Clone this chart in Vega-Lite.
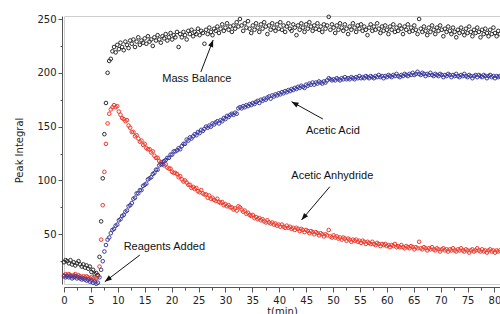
{
"$schema":"https://vega.github.io/schema/vega-lite/v6.json",
"width":436,"height":268,
"autosize":{"type":"none"},
"padding":{"left":64,"top":16,"right":0,"bottom":30},
"background":"white",
"config":{"view":{"stroke":"#cfcfcf","strokeWidth":1},"font":"DejaVu Sans"},
"datasets":{
"mass":[
{"t":0,"v":24},{"t":0.3,"v":26},{"t":0.6,"v":25},{"t":0.9,"v":23},{"t":1.2,"v":26},{"t":1.5,"v":22},{"t":1.8,"v":24},{"t":2.1,"v":21},{"t":2.4,"v":23},{"t":2.7,"v":25},
{"t":3,"v":22},{"t":3.3,"v":20},{"t":3.6,"v":22},{"t":3.9,"v":19},{"t":4.2,"v":21},{"t":4.5,"v":18},{"t":4.8,"v":20},{"t":5.1,"v":15},{"t":5.4,"v":17},{"t":5.7,"v":13},
{"t":6,"v":14},{"t":6.3,"v":12},{"t":6.6,"v":29},{"t":6.9,"v":62},{"t":7.2,"v":102},{"t":7.5,"v":143},{"t":7.8,"v":172},{"t":8.1,"v":200},{"t":8.4,"v":211},{"t":8.7,"v":213},
{"t":9,"v":220},{"t":9.3,"v":224},{"t":9.6,"v":219},{"t":9.9,"v":226},{"t":10.2,"v":222},{"t":10.5,"v":228},{"t":10.8,"v":224},{"t":11.1,"v":221},{"t":11.4,"v":229},{"t":11.7,"v":226},
{"t":12,"v":223},{"t":12.3,"v":230},{"t":12.6,"v":227},{"t":12.9,"v":231},{"t":13.2,"v":224},{"t":13.5,"v":229},{"t":13.8,"v":233},{"t":14.1,"v":226},{"t":14.4,"v":230},{"t":14.7,"v":228},
{"t":15,"v":232},{"t":15.3,"v":227},{"t":15.6,"v":234},{"t":15.9,"v":229},{"t":16.2,"v":231},{"t":16.5,"v":225},{"t":16.8,"v":233},{"t":17.1,"v":230},{"t":17.4,"v":235},{"t":17.7,"v":231},
{"t":18,"v":228},{"t":18.3,"v":234},{"t":18.6,"v":232},{"t":18.9,"v":236},{"t":19.2,"v":230},{"t":19.5,"v":233},{"t":19.8,"v":237},{"t":20.1,"v":231},{"t":20.4,"v":235},{"t":20.7,"v":233},
{"t":21,"v":238},{"t":21.3,"v":224},{"t":21.6,"v":236},{"t":21.9,"v":233},{"t":22.2,"v":238},{"t":22.5,"v":235},{"t":22.8,"v":231},{"t":23.1,"v":239},{"t":23.4,"v":236},{"t":23.7,"v":240},
{"t":24,"v":234},{"t":24.3,"v":238},{"t":24.6,"v":236},{"t":24.9,"v":241},{"t":25.2,"v":235},{"t":25.5,"v":239},{"t":25.8,"v":237},{"t":26.1,"v":227},{"t":26.4,"v":240},{"t":26.7,"v":236},
{"t":27,"v":242},{"t":27.3,"v":238},{"t":27.6,"v":235},{"t":27.9,"v":241},{"t":28.2,"v":239},{"t":28.5,"v":243},{"t":28.8,"v":237},{"t":29.1,"v":241},{"t":29.4,"v":245},{"t":29.7,"v":239},
{"t":30,"v":242},{"t":30.3,"v":246},{"t":30.6,"v":240},{"t":30.9,"v":243},{"t":31.2,"v":238},{"t":31.5,"v":244},{"t":31.8,"v":241},{"t":32.1,"v":247},{"t":32.4,"v":243},{"t":32.7,"v":250},
{"t":33,"v":244},{"t":33.3,"v":239},{"t":33.6,"v":246},{"t":33.9,"v":242},{"t":34.2,"v":248},{"t":34.5,"v":241},{"t":34.8,"v":237},{"t":35.1,"v":244},{"t":35.4,"v":240},{"t":35.7,"v":246},
{"t":36,"v":242},{"t":36.3,"v":238},{"t":36.6,"v":245},{"t":36.9,"v":241},{"t":37.2,"v":247},{"t":37.5,"v":243},{"t":37.8,"v":236},{"t":38.1,"v":244},{"t":38.4,"v":240},{"t":38.7,"v":246},
{"t":39,"v":242},{"t":39.3,"v":239},{"t":39.6,"v":245},{"t":39.9,"v":241},{"t":40.2,"v":247},{"t":40.5,"v":240},{"t":40.8,"v":244},{"t":41.1,"v":238},{"t":41.4,"v":243},{"t":41.7,"v":246},
{"t":42,"v":241},{"t":42.3,"v":239},{"t":42.6,"v":245},{"t":42.9,"v":242},{"t":43.2,"v":235},{"t":43.5,"v":244},{"t":43.8,"v":240},{"t":44.1,"v":246},{"t":44.4,"v":242},{"t":44.7,"v":238},
{"t":45,"v":245},{"t":45.3,"v":241},{"t":45.6,"v":247},{"t":45.9,"v":243},{"t":46.2,"v":239},{"t":46.5,"v":244},{"t":46.8,"v":241},{"t":47.1,"v":246},{"t":47.4,"v":240},{"t":47.7,"v":243},
{"t":48,"v":238},{"t":48.3,"v":245},{"t":48.6,"v":241},{"t":48.9,"v":244},{"t":49.2,"v":252},{"t":49.5,"v":240},{"t":49.8,"v":245},{"t":50.1,"v":242},{"t":50.4,"v":237},{"t":50.7,"v":244},
{"t":51,"v":240},{"t":51.3,"v":246},{"t":51.6,"v":242},{"t":51.9,"v":239},{"t":52.2,"v":245},{"t":52.5,"v":241},{"t":52.8,"v":236},{"t":53.1,"v":243},{"t":53.4,"v":240},{"t":53.7,"v":246},
{"t":54,"v":242},{"t":54.3,"v":238},{"t":54.6,"v":244},{"t":54.9,"v":241},{"t":55.2,"v":245},{"t":55.5,"v":239},{"t":55.8,"v":243},{"t":56.1,"v":240},{"t":56.4,"v":235},{"t":56.7,"v":242},
{"t":57,"v":245},{"t":57.3,"v":239},{"t":57.6,"v":243},{"t":57.9,"v":240},{"t":58.2,"v":246},{"t":58.5,"v":241},{"t":58.8,"v":237},{"t":59.1,"v":243},{"t":59.4,"v":239},{"t":59.7,"v":244},
{"t":60,"v":240},{"t":60.3,"v":236},{"t":60.6,"v":243},{"t":60.9,"v":240},{"t":61.2,"v":245},{"t":61.5,"v":238},{"t":61.8,"v":242},{"t":62.1,"v":239},{"t":62.4,"v":244},{"t":62.7,"v":241},
{"t":63,"v":236},{"t":63.3,"v":243},{"t":63.6,"v":240},{"t":63.9,"v":245},{"t":64.2,"v":238},{"t":64.5,"v":242},{"t":64.8,"v":239},{"t":65.1,"v":244},{"t":65.4,"v":240},{"t":65.7,"v":236},
{"t":66,"v":250},{"t":66.3,"v":241},{"t":66.6,"v":238},{"t":66.9,"v":243},{"t":67.2,"v":239},{"t":67.5,"v":235},{"t":67.8,"v":242},{"t":68.1,"v":238},{"t":68.4,"v":244},{"t":68.7,"v":240},
{"t":69,"v":236},{"t":69.3,"v":242},{"t":69.6,"v":239},{"t":69.9,"v":244},{"t":70.2,"v":240},{"t":70.5,"v":234},{"t":70.8,"v":241},{"t":71.1,"v":238},{"t":71.4,"v":243},{"t":71.7,"v":239},
{"t":72,"v":236},{"t":72.3,"v":242},{"t":72.6,"v":238},{"t":72.9,"v":233},{"t":73.2,"v":240},{"t":73.5,"v":237},{"t":73.8,"v":242},{"t":74.1,"v":238},{"t":74.4,"v":235},{"t":74.7,"v":241},
{"t":75,"v":237},{"t":75.3,"v":243},{"t":75.6,"v":238},{"t":75.9,"v":234},{"t":76.2,"v":240},{"t":76.5,"v":237},{"t":76.8,"v":242},{"t":77.1,"v":238},{"t":77.4,"v":233},{"t":77.7,"v":240},
{"t":78,"v":236},{"t":78.3,"v":241},{"t":78.6,"v":237},{"t":78.9,"v":234},{"t":79.2,"v":240},{"t":79.5,"v":236},{"t":79.8,"v":242},{"t":80.1,"v":237},{"t":80.4,"v":234},{"t":80.7,"v":239},
{"t":81,"v":236}],
"anh":[
{"t":0,"v":12},{"t":0.3,"v":13},{"t":0.6,"v":12},{"t":0.9,"v":13},{"t":1.2,"v":12},{"t":1.5,"v":11},{"t":1.8,"v":12},{"t":2.1,"v":13},{"t":2.4,"v":11},{"t":2.7,"v":12},
{"t":3,"v":11},{"t":3.3,"v":10},{"t":3.6,"v":11},{"t":3.9,"v":10},{"t":4.2,"v":11},{"t":4.5,"v":10},{"t":4.8,"v":9},{"t":5.1,"v":10},{"t":5.4,"v":9},{"t":5.7,"v":8},
{"t":6,"v":9},{"t":6.3,"v":11},{"t":6.6,"v":20},{"t":6.9,"v":45},{"t":7.2,"v":77},{"t":7.5,"v":108},{"t":7.8,"v":134},{"t":8.1,"v":153},{"t":8.4,"v":162},{"t":8.7,"v":166},
{"t":9,"v":168},{"t":9.3,"v":170},{"t":9.6,"v":168},{"t":9.9,"v":169},{"t":10.2,"v":164},{"t":10.5,"v":161},{"t":10.8,"v":158},{"t":11.1,"v":157},{"t":11.4,"v":155},{"t":11.7,"v":156},
{"t":12,"v":151},{"t":12.3,"v":149},{"t":12.6,"v":145},{"t":12.9,"v":145},{"t":13.2,"v":141},{"t":13.5,"v":142},{"t":13.8,"v":139},{"t":14.1,"v":136},{"t":14.4,"v":137},{"t":14.7,"v":133},
{"t":15,"v":134},{"t":15.3,"v":130},{"t":15.6,"v":129},{"t":15.9,"v":129},{"t":16.2,"v":126},{"t":16.5,"v":127},{"t":16.8,"v":123},{"t":17.1,"v":121},{"t":17.4,"v":121},{"t":17.7,"v":118},
{"t":18,"v":117},{"t":18.3,"v":117},{"t":18.6,"v":114},{"t":18.9,"v":115},{"t":19.2,"v":112},{"t":19.5,"v":111},{"t":19.8,"v":111},{"t":20.1,"v":108},{"t":20.4,"v":107},{"t":20.7,"v":107},
{"t":21,"v":106},{"t":21.3,"v":103},{"t":21.6,"v":104},{"t":21.9,"v":101},{"t":22.2,"v":99},{"t":22.5,"v":100},{"t":22.8,"v":98},{"t":23.1,"v":96},{"t":23.4,"v":96},{"t":23.7,"v":93},
{"t":24,"v":94},{"t":24.3,"v":92},{"t":24.6,"v":93},{"t":24.9,"v":90},{"t":25.2,"v":89},{"t":25.5,"v":91},{"t":25.8,"v":88},{"t":26.1,"v":87},{"t":26.4,"v":87},{"t":26.7,"v":84},
{"t":27,"v":86},{"t":27.3,"v":83},{"t":27.6,"v":84},{"t":27.9,"v":82},{"t":28.2,"v":81},{"t":28.5,"v":83},{"t":28.8,"v":80},{"t":29.1,"v":79},{"t":29.4,"v":80},{"t":29.7,"v":77},
{"t":30,"v":78},{"t":30.3,"v":76},{"t":30.6,"v":77},{"t":30.9,"v":75},{"t":31.2,"v":75},{"t":31.5,"v":73},{"t":31.8,"v":74},{"t":32.1,"v":72},{"t":32.4,"v":76},{"t":32.7,"v":75},
{"t":33,"v":73},{"t":33.3,"v":71},{"t":33.6,"v":72},{"t":33.9,"v":69},{"t":34.2,"v":70},{"t":34.5,"v":68},{"t":34.8,"v":67},{"t":35.1,"v":68},{"t":35.4,"v":65},{"t":35.7,"v":66},
{"t":36,"v":64},{"t":36.3,"v":65},{"t":36.6,"v":63},{"t":36.9,"v":64},{"t":37.2,"v":62},{"t":37.5,"v":61},{"t":37.8,"v":63},{"t":38.1,"v":61},{"t":38.4,"v":60},{"t":38.7,"v":61},
{"t":39,"v":59},{"t":39.3,"v":60},{"t":39.6,"v":58},{"t":39.9,"v":59},{"t":40.2,"v":57},{"t":40.5,"v":59},{"t":40.8,"v":57},{"t":41.1,"v":56},{"t":41.4,"v":58},{"t":41.7,"v":56},
{"t":42,"v":57},{"t":42.3,"v":55},{"t":42.6,"v":56},{"t":42.9,"v":54},{"t":43.2,"v":56},{"t":43.5,"v":55},{"t":43.8,"v":53},{"t":44.1,"v":55},{"t":44.4,"v":54},{"t":44.7,"v":52},
{"t":45,"v":54},{"t":45.3,"v":53},{"t":45.6,"v":51},{"t":45.9,"v":53},{"t":46.2,"v":52},{"t":46.5,"v":50},{"t":46.8,"v":52},{"t":47.1,"v":51},{"t":47.4,"v":49},{"t":47.7,"v":51},
{"t":48,"v":50},{"t":48.3,"v":48},{"t":48.6,"v":50},{"t":48.9,"v":49},{"t":49.2,"v":54},{"t":49.5,"v":48},{"t":49.8,"v":47},{"t":50.1,"v":49},{"t":50.4,"v":47},{"t":50.7,"v":48},
{"t":51,"v":46},{"t":51.3,"v":47},{"t":51.6,"v":45},{"t":51.9,"v":47},{"t":52.2,"v":46},{"t":52.5,"v":44},{"t":52.8,"v":46},{"t":53.1,"v":45},{"t":53.4,"v":43},{"t":53.7,"v":45},
{"t":54,"v":44},{"t":54.3,"v":45},{"t":54.6,"v":43},{"t":54.9,"v":44},{"t":55.2,"v":42},{"t":55.5,"v":44},{"t":55.8,"v":43},{"t":56.1,"v":41},{"t":56.4,"v":43},{"t":56.7,"v":42},
{"t":57,"v":41},{"t":57.3,"v":43},{"t":57.6,"v":41},{"t":57.9,"v":40},{"t":58.2,"v":42},{"t":58.5,"v":41},{"t":58.8,"v":39},{"t":59.1,"v":41},{"t":59.4,"v":40},{"t":59.7,"v":41},
{"t":60,"v":39},{"t":60.3,"v":40},{"t":60.6,"v":38},{"t":60.9,"v":40},{"t":61.2,"v":39},{"t":61.5,"v":41},{"t":61.8,"v":38},{"t":62.1,"v":39},{"t":62.4,"v":38},{"t":62.7,"v":40},
{"t":63,"v":38},{"t":63.3,"v":37},{"t":63.6,"v":39},{"t":63.9,"v":38},{"t":64.2,"v":37},{"t":64.5,"v":39},{"t":64.8,"v":38},{"t":65.1,"v":36},{"t":65.4,"v":38},{"t":65.7,"v":37},
{"t":66,"v":43},{"t":66.3,"v":37},{"t":66.6,"v":36},{"t":66.9,"v":38},{"t":67.2,"v":37},{"t":67.5,"v":35},{"t":67.8,"v":37},{"t":68.1,"v":36},{"t":68.4,"v":38},{"t":68.7,"v":36},
{"t":69,"v":35},{"t":69.3,"v":37},{"t":69.6,"v":36},{"t":69.9,"v":34},{"t":70.2,"v":36},{"t":70.5,"v":37},{"t":70.8,"v":35},{"t":71.1,"v":36},{"t":71.4,"v":34},{"t":71.7,"v":36},
{"t":72,"v":35},{"t":72.3,"v":37},{"t":72.6,"v":35},{"t":72.9,"v":34},{"t":73.2,"v":36},{"t":73.5,"v":35},{"t":73.8,"v":37},{"t":74.1,"v":35},{"t":74.4,"v":34},{"t":74.7,"v":36},
{"t":75,"v":35},{"t":75.3,"v":33},{"t":75.6,"v":35},{"t":75.9,"v":36},{"t":76.2,"v":34},{"t":76.5,"v":35},{"t":76.8,"v":37},{"t":77.1,"v":35},{"t":77.4,"v":34},{"t":77.7,"v":36},
{"t":78,"v":34},{"t":78.3,"v":35},{"t":78.6,"v":33},{"t":78.9,"v":35},{"t":79.2,"v":36},{"t":79.5,"v":34},{"t":79.8,"v":35},{"t":80.1,"v":33},{"t":80.4,"v":35},{"t":80.7,"v":34},
{"t":81,"v":35}],
"acid":[
{"t":0,"v":11},{"t":0.3,"v":10},{"t":0.6,"v":11},{"t":0.9,"v":10},{"t":1.2,"v":11},{"t":1.5,"v":9},{"t":1.8,"v":10},{"t":2.1,"v":11},{"t":2.4,"v":9},{"t":2.7,"v":10},
{"t":3,"v":9},{"t":3.3,"v":8},{"t":3.6,"v":9},{"t":3.9,"v":8},{"t":4.2,"v":7},{"t":4.5,"v":8},{"t":4.8,"v":6},{"t":5.1,"v":7},{"t":5.4,"v":5},{"t":5.7,"v":6},
{"t":6,"v":4},{"t":6.3,"v":5},{"t":6.6,"v":10},{"t":6.9,"v":17},{"t":7.2,"v":25},{"t":7.5,"v":34},{"t":7.8,"v":40},{"t":8.1,"v":45},{"t":8.4,"v":47},{"t":8.7,"v":51},
{"t":9,"v":54},{"t":9.3,"v":55},{"t":9.6,"v":58},{"t":9.9,"v":59},{"t":10.2,"v":63},{"t":10.5,"v":64},{"t":10.8,"v":67},{"t":11.1,"v":68},{"t":11.4,"v":71},{"t":11.7,"v":72},
{"t":12,"v":76},{"t":12.3,"v":77},{"t":12.6,"v":79},{"t":12.9,"v":83},{"t":13.2,"v":84},{"t":13.5,"v":88},{"t":13.8,"v":88},{"t":14.1,"v":91},{"t":14.4,"v":91},{"t":14.7,"v":95},
{"t":15,"v":96},{"t":15.3,"v":97},{"t":15.6,"v":101},{"t":15.9,"v":102},{"t":16.2,"v":103},{"t":16.5,"v":106},{"t":16.8,"v":107},{"t":17.1,"v":110},{"t":17.4,"v":110},{"t":17.7,"v":114},
{"t":18,"v":115},{"t":18.3,"v":115},{"t":18.6,"v":118},{"t":18.9,"v":119},{"t":19.2,"v":121},{"t":19.5,"v":121},{"t":19.8,"v":124},{"t":20.1,"v":124},{"t":20.4,"v":127},{"t":20.7,"v":127},
{"t":21,"v":128},{"t":21.3,"v":130},{"t":21.6,"v":129},{"t":21.9,"v":132},{"t":22.2,"v":134},{"t":22.5,"v":134},{"t":22.8,"v":138},{"t":23.1,"v":137},{"t":23.4,"v":140},{"t":23.7,"v":139},
{"t":24,"v":141},{"t":24.3,"v":143},{"t":24.6,"v":142},{"t":24.9,"v":145},{"t":25.2,"v":144},{"t":25.5,"v":147},{"t":25.8,"v":146},{"t":26.1,"v":148},{"t":26.4,"v":150},{"t":26.7,"v":149},
{"t":27,"v":151},{"t":27.3,"v":150},{"t":27.6,"v":153},{"t":27.9,"v":152},{"t":28.2,"v":154},{"t":28.5,"v":155},{"t":28.8,"v":153},{"t":29.1,"v":156},{"t":29.4,"v":155},{"t":29.7,"v":158},
{"t":30,"v":157},{"t":30.3,"v":160},{"t":30.6,"v":159},{"t":30.9,"v":161},{"t":31.2,"v":162},{"t":31.5,"v":161},{"t":31.8,"v":163},{"t":32.1,"v":162},{"t":32.4,"v":167},{"t":32.7,"v":168},
{"t":33,"v":167},{"t":33.3,"v":169},{"t":33.6,"v":168},{"t":33.9,"v":170},{"t":34.2,"v":169},{"t":34.5,"v":171},{"t":34.8,"v":170},{"t":35.1,"v":172},{"t":35.4,"v":171},{"t":35.7,"v":173},
{"t":36,"v":174},{"t":36.3,"v":172},{"t":36.6,"v":175},{"t":36.9,"v":174},{"t":37.2,"v":176},{"t":37.5,"v":175},{"t":37.8,"v":177},{"t":38.1,"v":178},{"t":38.4,"v":176},{"t":38.7,"v":179},
{"t":39,"v":178},{"t":39.3,"v":180},{"t":39.6,"v":179},{"t":39.9,"v":181},{"t":40.2,"v":180},{"t":40.5,"v":182},{"t":40.8,"v":181},{"t":41.1,"v":183},{"t":41.4,"v":182},{"t":41.7,"v":184},
{"t":42,"v":183},{"t":42.3,"v":185},{"t":42.6,"v":184},{"t":42.9,"v":186},{"t":43.2,"v":185},{"t":43.5,"v":187},{"t":43.8,"v":186},{"t":44.1,"v":188},{"t":44.4,"v":187},{"t":44.7,"v":186},
{"t":45,"v":189},{"t":45.3,"v":188},{"t":45.6,"v":190},{"t":45.9,"v":189},{"t":46.2,"v":191},{"t":46.5,"v":189},{"t":46.8,"v":191},{"t":47.1,"v":190},{"t":47.4,"v":192},{"t":47.7,"v":191},
{"t":48,"v":190},{"t":48.3,"v":192},{"t":48.6,"v":191},{"t":48.9,"v":193},{"t":49.2,"v":195},{"t":49.5,"v":194},{"t":49.8,"v":193},{"t":50.1,"v":194},{"t":50.4,"v":193},{"t":50.7,"v":195},
{"t":51,"v":194},{"t":51.3,"v":193},{"t":51.6,"v":195},{"t":51.9,"v":194},{"t":52.2,"v":196},{"t":52.5,"v":194},{"t":52.8,"v":195},{"t":53.1,"v":194},{"t":53.4,"v":196},{"t":53.7,"v":195},
{"t":54,"v":194},{"t":54.3,"v":196},{"t":54.6,"v":195},{"t":54.9,"v":197},{"t":55.2,"v":195},{"t":55.5,"v":196},{"t":55.8,"v":195},{"t":56.1,"v":197},{"t":56.4,"v":196},{"t":56.7,"v":195},
{"t":57,"v":197},{"t":57.3,"v":196},{"t":57.6,"v":195},{"t":57.9,"v":197},{"t":58.2,"v":196},{"t":58.5,"v":198},{"t":58.8,"v":196},{"t":59.1,"v":197},{"t":59.4,"v":195},{"t":59.7,"v":197},
{"t":60,"v":196},{"t":60.3,"v":198},{"t":60.6,"v":197},{"t":60.9,"v":196},{"t":61.2,"v":198},{"t":61.5,"v":197},{"t":61.8,"v":199},{"t":62.1,"v":197},{"t":62.4,"v":196},{"t":62.7,"v":198},
{"t":63,"v":197},{"t":63.3,"v":199},{"t":63.6,"v":198},{"t":63.9,"v":197},{"t":64.2,"v":199},{"t":64.5,"v":198},{"t":64.8,"v":200},{"t":65.1,"v":198},{"t":65.4,"v":199},{"t":65.7,"v":201},
{"t":66,"v":199},{"t":66.3,"v":198},{"t":66.6,"v":200},{"t":66.9,"v":199},{"t":67.2,"v":197},{"t":67.5,"v":199},{"t":67.8,"v":198},{"t":68.1,"v":200},{"t":68.4,"v":198},{"t":68.7,"v":197},
{"t":69,"v":199},{"t":69.3,"v":198},{"t":69.6,"v":197},{"t":69.9,"v":199},{"t":70.2,"v":198},{"t":70.5,"v":196},{"t":70.8,"v":198},{"t":71.1,"v":197},{"t":71.4,"v":199},{"t":71.7,"v":198},
{"t":72,"v":196},{"t":72.3,"v":198},{"t":72.6,"v":197},{"t":72.9,"v":199},{"t":73.2,"v":197},{"t":73.5,"v":196},{"t":73.8,"v":198},{"t":74.1,"v":197},{"t":74.4,"v":199},{"t":74.7,"v":197},
{"t":75,"v":196},{"t":75.3,"v":198},{"t":75.6,"v":197},{"t":75.9,"v":195},{"t":76.2,"v":197},{"t":76.5,"v":198},{"t":76.8,"v":196},{"t":77.1,"v":198},{"t":77.4,"v":197},{"t":77.7,"v":196},
{"t":78,"v":198},{"t":78.3,"v":197},{"t":78.6,"v":195},{"t":78.9,"v":197},{"t":79.2,"v":198},{"t":79.5,"v":196},{"t":79.8,"v":197},{"t":80.1,"v":195},{"t":80.4,"v":197},{"t":80.7,"v":196},
{"t":81,"v":197}],
"notes":[
{"label":"Mass Balance","t":24.69,"v":194.7},
{"label":"Acetic Acid","t":49.97,"v":145.9},
{"label":"Acetic Anhydride","t":49.87,"v":104.1},
{"label":"Reagents Added","t":18.65,"v":38.5}],
"arrows":[
{"id":"mb","t":27.72,"v":230.5,"t2":25.43,"v2":200.8},
{"id":"aa","t":42.29,"v":173.2,"t2":48.11,"v2":157.1},
{"id":"an","t":44.15,"v":63.3,"t2":49.41,"v2":94.2},
{"id":"ra","t":7.59,"v":5.94,"t2":14.1,"v2":30.7}]
},
"encoding":{
"x":{"field":"t","type":"quantitative","scale":{"domain":[0,81.03],"nice":false,"zero":false},
"axis":{"title":"t(min)","values":[0,2.5,5,7.5,10,12.5,15,17.5,20,22.5,25,27.5,30,32.5,35,37.5,40,42.5,45,47.5,50,52.5,55,57.5,60,62.5,65,67.5,70,72.5,75,77.5,80],
"labelExpr":"datum.value % 5 === 0 ? datum.label : ''",
"tickSize":{"condition":{"test":"datum.value % 5 === 0","value":5},"value":3},
"offset":3,"grid":false,"domainColor":"#555555","tickColor":"#555555","labelColor":"#222222","labelFont":"DejaVu Sans","labelFontSize":10,"labelPadding":3,"labelFlush":false,"labelOverlap":false,
"titleFont":"DejaVu Sans","titleFontSize":10,"titleFontWeight":"normal","titleColor":"#222222","titlePadding":1}},
"y":{"field":"v","type":"quantitative","scale":{"domain":[3.8,252.8],"nice":false,"zero":false},
"axis":{"title":"Peak Integral","values":[25,50,75,100,125,150,175,200,225,250],
"labelExpr":"datum.value % 50 === 0 ? datum.label : ''",
"tickSize":{"condition":{"test":"datum.value % 50 === 0","value":4},"value":2},
"offset":2,"grid":false,"domainColor":"#555555","tickColor":"#555555","labelColor":"#222222","labelFont":"DejaVu Sans","labelFontSize":10,"labelPadding":2,"labelFlush":false,"labelOverlap":false,
"titleFont":"DejaVu Sans","titleFontSize":10,"titleFontWeight":"normal","titleColor":"#222222","titlePadding":12}}
},
"layer":[
{"data":{"name":"mass"},"mark":{"type":"point","shape":"circle","filled":false,"size":13,"strokeWidth":1,"color":"#2a2a2a","opacity":1}},
{"data":{"name":"anh"},"mark":{"type":"point","shape":"circle","filled":false,"size":13,"strokeWidth":1,"color":"#ec3a2c","opacity":1}},
{"data":{"name":"acid"},"mark":{"type":"point","shape":"circle","filled":false,"size":13,"strokeWidth":1,"color":"#3a3a9e","opacity":1}},
{"data":{"name":"arrows"},"mark":{"type":"rule","color":"#111111","strokeWidth":1},"encoding":{"x2":{"field":"t2"},"y2":{"field":"v2"}}},
{"data":{"name":"arrows"},"transform":[{"filter":"datum.id === 'mb'"}],"mark":{"type":"point","shape":"M0,0L0.38,1L-0.38,1Z","filled":true,"size":196,"color":"#111111","opacity":1,"angle":21}},
{"data":{"name":"arrows"},"transform":[{"filter":"datum.id === 'aa'"}],"mark":{"type":"point","shape":"M0,0L0.38,1L-0.38,1Z","filled":true,"size":196,"color":"#111111","opacity":1,"angle":299}},
{"data":{"name":"arrows"},"transform":[{"filter":"datum.id === 'an'"}],"mark":{"type":"point","shape":"M0,0L0.38,1L-0.38,1Z","filled":true,"size":196,"color":"#111111","opacity":1,"angle":220}},
{"data":{"name":"arrows"},"transform":[{"filter":"datum.id === 'ra'"}],"mark":{"type":"point","shape":"M0,0L0.38,1L-0.38,1Z","filled":true,"size":196,"color":"#111111","opacity":1,"angle":233}},
{"data":{"name":"notes"},"mark":{"type":"text","font":"Liberation Sans","fontSize":11,"color":"#111111","align":"center","baseline":"middle"},"encoding":{"text":{"field":"label"}}}
]
}
